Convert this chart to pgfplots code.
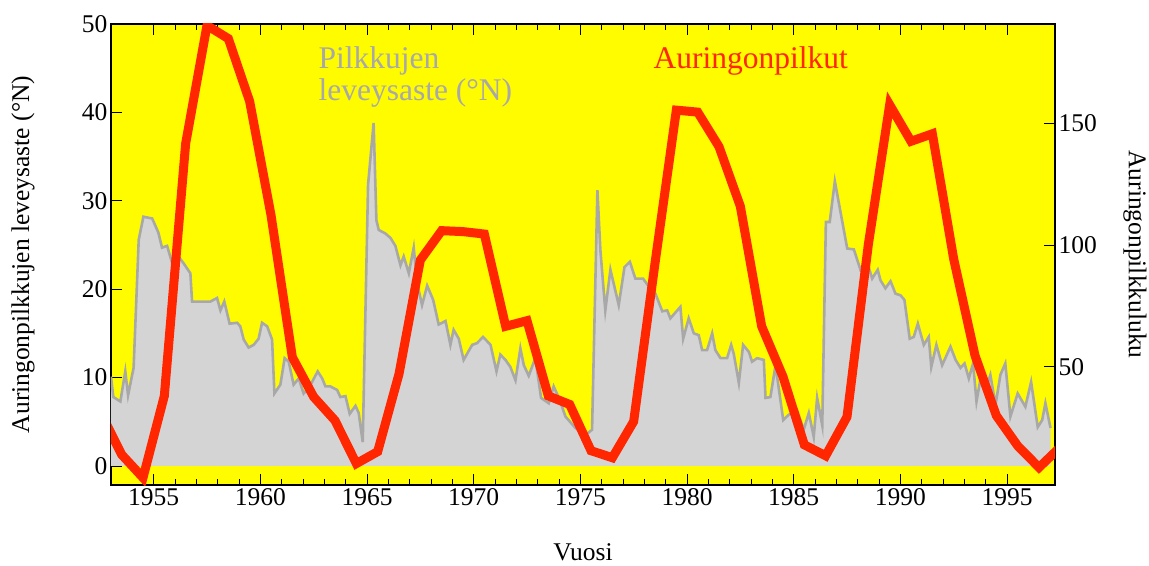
\documentclass[border=0pt]{standalone}
\usepackage{fontspec}
\setmainfont{Liberation Serif}
\usepackage{pgfplots}
\usepackage{pgfplotstable}
\pgfplotsset{compat=1.18}
\definecolor{bgyellow}{RGB}{255,252,0}
\definecolor{spotred}{RGB}{255,38,0}
\definecolor{latfill}{RGB}{212,212,212}
\definecolor{latline}{RGB}{168,168,168}
\newcommand\fs{\fontsize{25.5bp}{30bp}\selectfont}
\newcommand\fa{\fontsize{31.5bp}{36bp}\selectfont}

\pgfplotstableread{
year lat
1953.00 10.1
1953.11 7.8
1953.44 7.3
1953.67 10.7
1953.80 8.0
1954.06 11.1
1954.30 25.6
1954.52 28.2
1954.93 28.0
1955.22 26.4
1955.39 24.7
1955.63 24.9
1955.86 23.0
1956.16 23.7
1956.41 22.9
1956.72 21.8
1956.80 18.6
1957.66 18.6
1957.97 19.0
1958.13 17.6
1958.31 18.6
1958.56 16.1
1958.91 16.2
1959.06 15.8
1959.22 14.3
1959.45 13.4
1959.69 13.7
1959.92 14.4
1960.08 16.2
1960.32 15.8
1960.55 14.3
1960.66 8.2
1960.94 9.2
1961.14 12.2
1961.33 11.8
1961.56 9.2
1961.80 9.9
1962.03 8.2
1962.27 8.8
1962.69 10.7
1962.90 9.9
1963.05 9.0
1963.28 9.0
1963.60 8.6
1963.75 7.8
1963.99 7.9
1964.19 5.9
1964.46 6.8
1964.61 6.0
1964.80 2.7
1965.05 31.8
1965.31 38.8
1965.44 27.8
1965.55 26.7
1965.86 26.3
1966.10 25.8
1966.33 24.9
1966.57 22.7
1966.72 23.7
1966.96 21.8
1967.19 24.7
1967.35 20.7
1967.58 18.2
1967.82 20.4
1968.10 18.8
1968.36 16.0
1968.68 16.4
1968.91 13.7
1969.06 15.4
1969.30 14.4
1969.53 12.0
1969.93 13.7
1970.16 13.9
1970.44 14.6
1970.79 13.7
1971.07 10.7
1971.25 12.6
1971.49 12.0
1971.72 11.2
1971.96 9.7
1972.19 13.3
1972.35 11.4
1972.58 10.2
1972.89 12.2
1973.16 7.7
1973.52 7.1
1973.75 9.0
1974.03 7.5
1974.30 5.6
1974.77 4.3
1975.24 3.5
1975.55 4.1
1975.80 31.2
1975.94 24.4
1976.17 17.6
1976.41 22.2
1976.80 18.2
1977.07 22.5
1977.32 23.1
1977.58 21.2
1977.94 21.2
1978.21 20.3
1978.52 19.5
1978.84 17.5
1979.07 17.6
1979.22 16.7
1979.69 18.0
1979.82 14.4
1980.08 16.7
1980.32 15.0
1980.55 14.8
1980.71 13.1
1980.94 13.1
1981.18 15.0
1981.33 13.1
1981.57 12.2
1981.88 12.2
1982.07 13.7
1982.19 12.7
1982.43 9.4
1982.63 13.7
1982.90 12.9
1983.05 11.8
1983.29 12.2
1983.60 12.0
1983.68 7.7
1983.91 7.8
1984.15 11.4
1984.51 5.2
1984.77 5.8
1985.16 6.3
1985.47 4.1
1985.71 6.0
1985.94 3.3
1986.10 7.7
1986.34 4.6
1986.51 27.6
1986.69 27.6
1986.93 32.2
1987.19 28.8
1987.51 24.6
1987.82 24.5
1988.13 22.2
1988.45 23.0
1988.68 21.2
1988.94 22.2
1989.07 21.0
1989.30 20.1
1989.54 20.9
1989.77 19.5
1990.01 19.3
1990.19 18.8
1990.44 14.4
1990.63 14.6
1990.82 16.1
1991.10 13.7
1991.33 14.6
1991.45 11.2
1991.69 13.7
1991.96 11.4
1992.35 13.5
1992.59 12.0
1992.82 11.1
1993.01 11.6
1993.21 9.9
1993.41 11.6
1993.57 7.3
1993.76 9.9
1993.99 8.6
1994.22 10.3
1994.46 6.9
1994.69 10.3
1994.92 11.6
1995.16 5.6
1995.50 8.2
1995.86 6.7
1996.13 9.5
1996.44 4.4
1996.65 5.2
1996.80 7.1
1997.04 4.3
}\latdata

\pgfplotstableread{
year spots
1952.5 31.5
1953.5 13.9
1954.5 4.4
1955.5 38.0
1956.5 141.7
1957.5 190.2
1958.5 184.8
1959.5 159.0
1960.5 112.3
1961.5 53.9
1962.5 37.6
1963.5 27.9
1964.5 10.2
1965.5 15.1
1966.5 47.0
1967.5 93.8
1968.5 105.9
1969.5 105.5
1970.5 104.5
1971.5 66.6
1972.5 68.9
1973.5 38.0
1974.5 34.5
1975.5 15.5
1976.5 12.6
1977.5 27.5
1978.5 92.5
1979.5 155.4
1980.5 154.6
1981.5 140.4
1982.5 115.9
1983.5 66.6
1984.5 45.9
1985.5 17.9
1986.5 13.4
1987.5 29.4
1988.5 100.2
1989.5 157.6
1990.5 142.6
1991.5 145.7
1992.5 94.3
1993.5 54.6
1994.5 29.9
1995.5 17.5
1996.5 8.6
1997.5 17.0
}\spotdata

\begin{document}
\begin{tikzpicture}
\pgfplotsset{
  every axis/.append style={
    scale only axis, width=944bp, height=461bp,
    xmin=1953, xmax=1997.25,
    tick align=inside,
    major tick length=11bp, minor tick length=6bp,
    tick style={black, line width=0.8bp},
    ticklabel style={font=\fs},
    label style={font=\fs},
    /pgf/number format/assume math mode=true,
    /pgf/number format/1000 sep={},
  }
}
\begin{axis}[name=main,
  ymin=-2.15, ymax=50,
  axis background/.style={fill=bgyellow},
  xtick={1955,1960,...,1995}, minor x tick num=4,
  ytick={0,10,...,50}, ytick pos=left,
  axis line style={black, line width=1.2bp},
  xlabel={Vuosi},
  ylabel={Auringonpilkkujen leveysaste (°N)},
  xlabel style={at={(axis description cs:0.5,-0.1627)}, anchor=base, inner sep=0pt},
  ylabel style={at={(axis description cs:-0.0932,0.5)}, anchor=center, inner sep=0pt},
]
\addplot[fill=latfill, draw=none] table[x=year, y=lat] {\latdata} \closedcycle;
\addplot[latline, line width=2.6bp] table[x=year, y=lat] {\latdata};
\node[anchor=base west, text=latline, font=\fa, inner sep=0] at (axis cs:1962.72,45.0) {Pilkkujen};
\node[anchor=base west, text=latline, font=\fa, inner sep=0] at (axis cs:1962.72,41.4) {leveysaste (°N)};
\node[anchor=base west, text=spotred, font=\fa, inner sep=0] at (axis cs:1978.43,45.0) {Auringonpilkut};
\end{axis}
\begin{axis}[
  ymin=1.4, ymax=190.8,
  axis x line=none, axis y line*=right,
  ytick={50,100,150},
  axis line style={black, line width=1.6bp},
  ylabel={Auringonpilkkuluku},
  ylabel style={at={(axis description cs:1.0847,0.5)}, anchor=center, inner sep=0pt, rotate=180},
]
\addplot[spotred, line width=9bp] table[x=year, y=spots] {\spotdata};
\end{axis}
\pgfresetboundingbox
\path ([xshift=-111bp,yshift=-81bp]main.south west) rectangle ([xshift=94bp,yshift=24bp]main.north east);
\end{tikzpicture}
\end{document}
